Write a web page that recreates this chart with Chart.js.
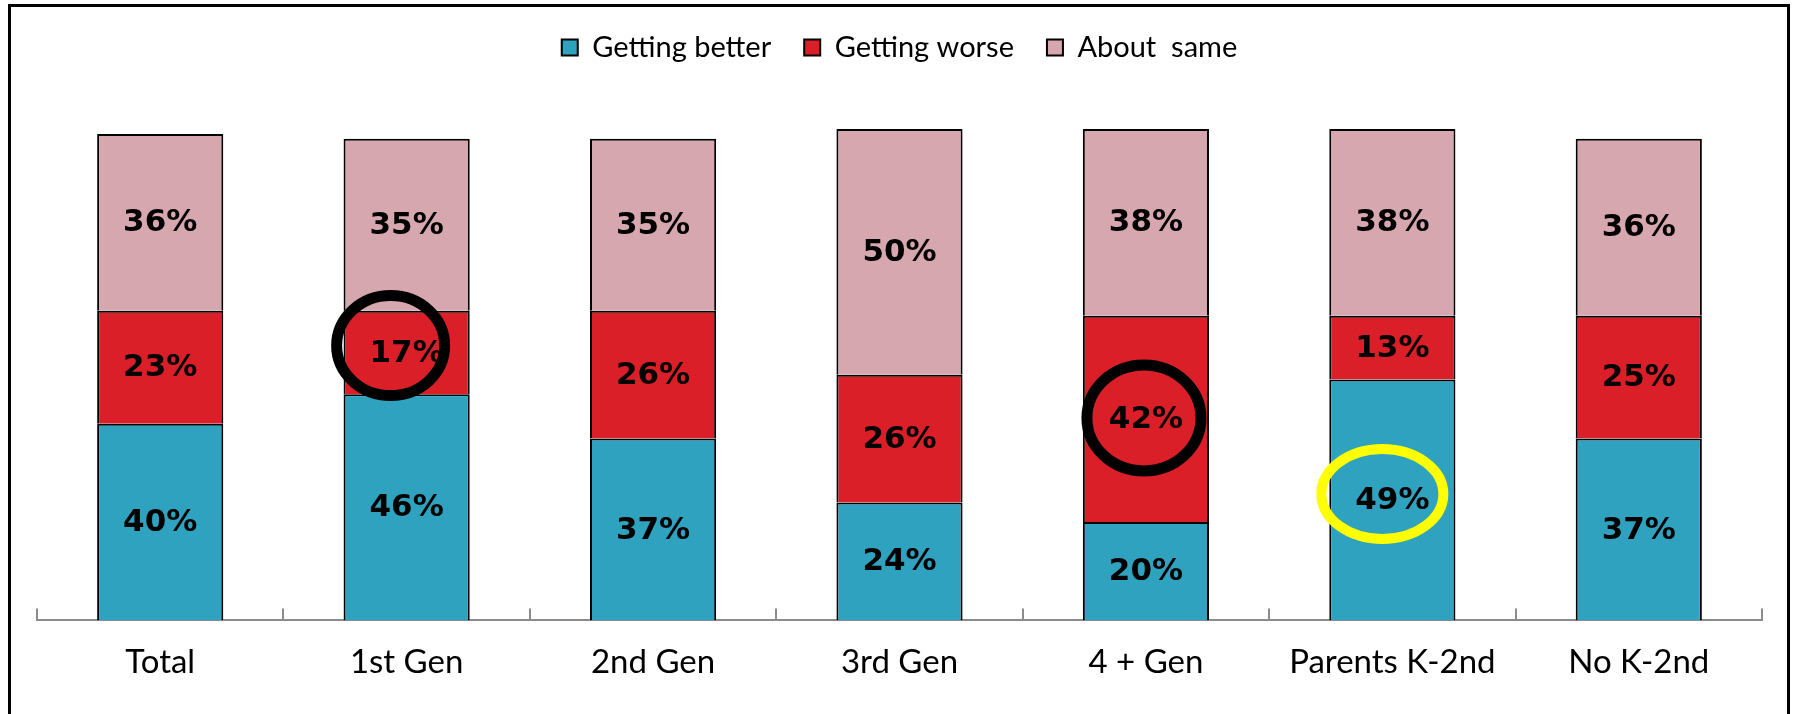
<!DOCTYPE html>
<html>
<head>
<meta charset="utf-8">
<script src="https://cdn.jsdelivr.net/npm/chart.js@4.4.0/dist/chart.umd.min.js"></script>
<style>
  html, body { margin: 0; padding: 0; background: #fff; }
  #wrap { position: relative; width: 1793px; height: 714px; overflow: hidden; }
  #frame { position: absolute; left: 8px; top: 4px; width: 1776px; height: 760px; border: 3px solid #000; }
  #myChart { position: absolute; left: 0; top: 0; }
</style>
</head>
<body>
<div id="wrap">
  <div id="frame"></div>
  <canvas id="myChart" width="1793" height="714"></canvas>
</div>
<script>
let labels = ['Total', '1st Gen', '2nd Gen', '3rd Gen', '4 + Gen', 'Parents K-2nd', 'No K-2nd'];
let seriesNames = ['Getting better', 'Getting worse', 'About  same'];
let better = [40, 46, 37, 24, 20, 49, 37];   // %
let worse = [23, 17, 26, 26, 42, 13, 25];
let same = [36, 35, 35, 50, 38, 38, 36];
let colors = ['#2EA2BF', '#DA1F29', '#D7A7AF'];

// circled values: category index, dataset index
let highlights = [
    { cat: 1, ds: 1, color: '#000000', dx: -16, dy: -7, rx: 54, ry: 50, w: 11 },
    { cat: 4, ds: 1, color: '#000000', dx: -2, dy: -1, rx: 57, ry: 53, w: 11 },
    { cat: 5, ds: 0, color: '#FFFF00', dx: -10, dy: -6, rx: 61, ry: 45, w: 10 }
];

// push the plot down below the legend
const legendGap = {
    id: 'legendGap',
    beforeInit(chart) {
        const fit = chart.legend.fit;
        chart.legend.fit = function () {
            fit.bind(chart.legend)();
            this.height += 57;
        };
    }
};

const barExtras = {
    id: 'barExtras',
    afterDatasetsDraw(chart) {
        const ctx = chart.ctx;
        const x = chart.scales.x;
        const bottom = chart.chartArea.bottom;

        // small tick marks between categories, pointing up
        ctx.save();
        ctx.strokeStyle = '#8c8c8c';
        ctx.lineWidth = 2;
        for (let i = 0; i <= labels.length; i++) {
            const px = Math.round(x.getPixelForValue(i - 0.5));
            ctx.beginPath();
            ctx.moveTo(px, bottom);
            ctx.lineTo(px, bottom - 12);
            ctx.stroke();
        }

        // value labels
        ctx.fillStyle = '#000';
        ctx.font = 'bold 31px "DejaVu Sans"';
        ctx.textAlign = 'center';
        ctx.textBaseline = 'middle';
        chart.data.datasets.forEach((ds, di) => {
            chart.getDatasetMeta(di).data.forEach((bar, i) => {
                const c = bar.getCenterPoint();
                ctx.fillText(ds.data[i] + '%', c.x, c.y + 1);
            });
        });

        // circles
        highlights.forEach(h => {
            const c = chart.getDatasetMeta(h.ds).data[h.cat].getCenterPoint();
            ctx.beginPath();
            ctx.ellipse(c.x + h.dx, c.y + h.dy, h.rx, h.ry, 0, 0, Math.PI * 2);
            ctx.strokeStyle = h.color;
            ctx.lineWidth = h.w;
            ctx.stroke();
        });
        ctx.restore();
    }
};

let chart1 = new Chart(document.getElementById('myChart').getContext('2d'), {
    type: 'bar',
    data: {
        labels: labels,
        datasets: [
            { label: seriesNames[0], data: better, backgroundColor: colors[0] },
            { label: seriesNames[1], data: worse, backgroundColor: colors[1] },
            { label: seriesNames[2], data: same, backgroundColor: colors[2] }
        ]
    },
    options: {
        responsive: false,
        animation: false,
        devicePixelRatio: 1,
        layout: { padding: { top: 0, left: 37, right: 31, bottom: 10 } },
        datasets: {
            bar: {
                borderColor: '#000',
                borderWidth: 2,
                categoryPercentage: 1,
                barPercentage: 0.512
            }
        },
        scales: {
            x: {
                stacked: true,
                grid: { display: false, drawTicks: false },
                border: { display: true, color: '#8c8c8c', width: 2 },
                ticks: {
                    color: '#000',
                    padding: 22,
                    font: { family: 'Lato', size: 33 }
                }
            },
            y: {
                stacked: true,
                display: false,
                min: 0,
                max: 100
            }
        },
        plugins: {
            legend: {
                position: 'top',
                labels: {
                    color: '#000',
                    boxWidth: 16,
                    boxHeight: 16,
                    padding: 33,
                    font: { family: 'Lato', size: 29 }
                }
            },
            tooltip: { enabled: false }
        }
    },
    plugins: [legendGap, barExtras]
});
</script>
</body>
</html>
